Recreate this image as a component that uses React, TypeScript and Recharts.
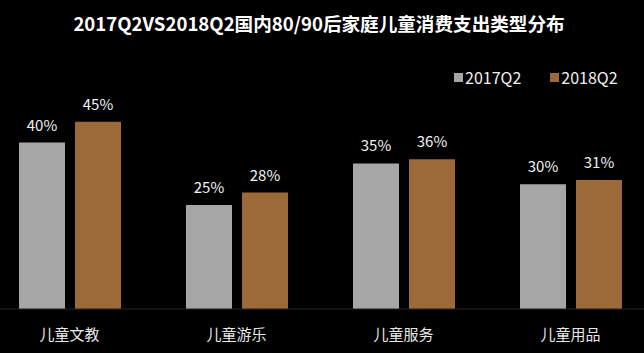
import React from 'react';
import { BarChart, Bar, XAxis, YAxis, LabelList } from 'recharts';

const categories = ['儿童文教', '儿童游乐', '儿童服务', '儿童用品'];
const values2017 = [40, 25, 35, 30];
const values2018 = [45, 28, 36, 31];
const seriesNames = ['2017Q2', '2018Q2'];

const COLORS = ['#a6a6a6', '#9c6a38'];
const FONT = '"Noto Sans CJK SC", "Noto Sans", sans-serif';

const data = categories.map((name, i) => ({
  name,
  v2017: values2017[i],
  v2018: values2018[i],
}));

const App: React.FC = () => (
  <div style={{ width: 644, height: 353, background: '#000', position: 'relative', fontFamily: FONT }}>
    <style>{'body{margin:0;background:#000}'}</style>
    <div style={{ position: 'absolute', top: 9, left: 0, width: 638, textAlign: 'center', color: '#fff', fontSize: 18.6, fontWeight: 700 }}>
      2017Q2VS2018Q2国内80/90后家庭儿童消费支出类型分布
    </div>
    {/* legend */}
    <div style={{ position: 'absolute', top: 65, left: 454, display: 'flex', fontSize: 16, color: '#f0f0f0' }}>
      {seriesNames.map((s, i) => (
        <div key={s} style={{ display: 'flex', alignItems: 'center', marginLeft: i ? 29 : 0 }}>
          <span style={{ width: 9, height: 9, background: COLORS[i], display: 'inline-block', marginRight: 2 }} />
          <span>{s}</span>
        </div>
      ))}
    </div>
    <BarChart width={644} height={353} data={data} barGap={10} barSize={46}
      margin={{ top: 101, right: -10, bottom: 14, left: -14 }}>
      <XAxis dataKey="name" axisLine={{ stroke: '#262626' }} tickLine={false}
        tick={{ fill: '#e8e8e8', fontSize: 15, fontFamily: FONT }} height={30} tickMargin={14} />
      <YAxis hide domain={[0, 50]} />
      <Bar dataKey="v2017" name={seriesNames[0]} fill={COLORS[0]} isAnimationActive={false}>
        <LabelList dataKey="v2017" position="top" offset={12} formatter={(v: number) => `${v}%`}
          style={{ fill: '#f0f0f0', fontSize: 15, fontFamily: FONT }} />
      </Bar>
      <Bar dataKey="v2018" name={seriesNames[1]} fill={COLORS[1]} isAnimationActive={false}>
        <LabelList dataKey="v2018" position="top" offset={12} formatter={(v: number) => `${v}%`}
          style={{ fill: '#f0f0f0', fontSize: 15, fontFamily: FONT }} />
      </Bar>
    </BarChart>
  </div>
);

export default App;
